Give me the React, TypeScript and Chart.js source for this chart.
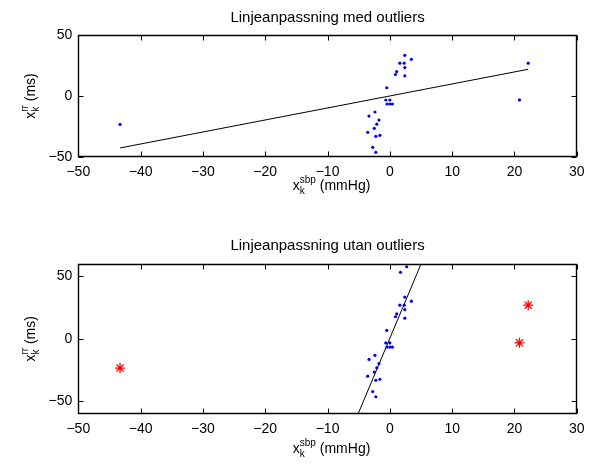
import React, { useEffect, useRef } from "react";
import { Chart, registerables } from "chart.js";

Chart.register(...registerables);

// ---- data ----
const inlierX = [2.7, 1.7, 2.4, 3.45, 1.6, 2.3, 2.4, 1.1, 0.9, 2.4, -0.5, -0.65, 0.0, -0.45, 0.0, 0.4, -2.4, -3.35, -1.75, -2.1, -2.5, -3.55, -2.25, -1.6, -2.75, -2.25];
const inlierY = [57.8, 53.3, 33.5, 30.2, 27.0, 27.0, 23.4, 20.1, 17.7, 16.6, 6.8, -3.3, -3.3, -6.6, -6.6, -6.6, -13.2, -16.5, -19.8, -23.2, -26.6, -29.9, -33.2, -32.4, -42.3, -46.4];
const outlierX = [-43.3, 22.2, 20.8];
const outlierY = [-23.4, 27.0, -3.2];
const fitAllX = [-43.3, 22.2];
const fitAllY = [-42.8, 22.0];
const fitInX = [-6.0, 6.0];
const fitInY = [-70.9, 71.9];
const xTicks = [-50, -40, -30, -20, -10, 0, 10, 20, 30];
const yTicks = [-50, 0, 50];
const titles = ["Linjeanpassning med outliers", "Linjeanpassning utan outliers"];

const FONT = '"Liberation Sans", Arial, Helvetica, sans-serif';
const pts = (xs: number[], ys: number[]) => xs.map((x, i) => ({ x, y: ys[i] }));
const fmt = (v: number) => (v < 0 ? "\u2212" + Math.abs(v) : String(v));

function drawSubSup(ctx: CanvasRenderingContext2D, base: string, sub: string, sup: string, rest: string) {
  ctx.font = `14px ${FONT}`;
  const wb = ctx.measureText(base).width;
  const wr = ctx.measureText(rest).width;
  ctx.font = `10px ${FONT}`;
  const ws = ctx.measureText(sub).width;
  const wp = ctx.measureText(sup).width;
  const total = wb + Math.max(ws, wp) + wr;
  let x = -total / 2;
  ctx.textAlign = "left";
  ctx.textBaseline = "alphabetic";
  ctx.fillStyle = "#000";
  ctx.font = `14px ${FONT}`;
  ctx.fillText(base, x, 0);
  x += wb;
  ctx.font = `10px ${FONT}`;
  ctx.fillText(sub, x, 4);
  ctx.fillText(sup, x, -7);
  x += Math.max(ws, wp);
  ctx.font = `14px ${FONT}`;
  ctx.fillText(rest, x, 0);
}

function makeFramePlugin(title: string, titleBase: number, xlabBase: number, ylabBase: number) {
  return {
    id: "frame",
    afterDraw(chart: any) {
      const ctx: CanvasRenderingContext2D = chart.ctx;
      const a = chart.chartArea;
      const xs = chart.scales.x;
      const ys = chart.scales.y;
      ctx.save();
      ctx.strokeStyle = "#000";
      ctx.lineWidth = 1.4;
      const L = Math.round(a.left) + 0.5, R = Math.round(a.right) - 0.5;
      const T = Math.round(a.top) + 0.5, B = Math.round(a.bottom) - 0.5;
      ctx.beginPath();
      ctx.rect(L, T, R - L, B - T);
      ctx.stroke();
      ctx.lineWidth = 1;
      const tl = 5;
      ctx.beginPath();
      xTicks.forEach((v) => {
        const px = Math.round(xs.getPixelForValue(v)) + 0.5;
        ctx.moveTo(px, B); ctx.lineTo(px, B - tl);
        ctx.moveTo(px, T); ctx.lineTo(px, T + tl);
      });
      yTicks.forEach((v) => {
        const py = Math.round(ys.getPixelForValue(v)) + 0.5;
        ctx.moveTo(L, py); ctx.lineTo(L + tl, py);
        ctx.moveTo(R, py); ctx.lineTo(R - tl, py);
      });
      ctx.stroke();
      const cx = (a.left + a.right) / 2;
      const cy = (a.top + a.bottom) / 2;
      ctx.fillStyle = "#000";
      ctx.font = `15px ${FONT}`;
      ctx.textAlign = "center";
      ctx.textBaseline = "alphabetic";
      ctx.fillText(title, cx, titleBase);
      ctx.save();
      ctx.translate(cx + 4, xlabBase);
      drawSubSup(ctx, "x", "k", "sbp", " (mmHg)");
      ctx.restore();
      ctx.save();
      ctx.translate(ylabBase, cy);
      ctx.rotate(-Math.PI / 2);
      drawSubSup(ctx, "x", "k", "rr", " (ms)");
      ctx.restore();
      ctx.restore();
    },
  };
}

function makeConfig(idx: number): any {
  const top = idx === 0;
  const datasets: any[] = [];
  if (top) {
    datasets.push({
      data: pts(fitAllX, fitAllY), showLine: true, borderColor: "#000", borderWidth: 1,
      pointRadius: 0, fill: false, order: 2,
    });
    datasets.push({
      data: pts(inlierX.concat(outlierX), inlierY.concat(outlierY)),
      pointRadius: 1.6, pointBackgroundColor: "#0000ff", pointBorderWidth: 0, showLine: false, order: 1,
    });
  } else {
    datasets.push({
      data: pts(fitInX, fitInY), showLine: true, borderColor: "#000", borderWidth: 1,
      pointRadius: 0, fill: false, order: 2,
    });
    datasets.push({
      data: pts(inlierX, inlierY),
      pointRadius: 1.6, pointBackgroundColor: "#0000ff", pointBorderWidth: 0, showLine: false, order: 1,
    });
    datasets.push({
      data: pts(outlierX, outlierY), pointStyle: "star",
      pointRadius: 5, pointBorderColor: "#ff0000", pointBackgroundColor: "#ff0000", pointBorderWidth: 1.3, showLine: false, order: 1,
    });
  }
  const areaTop = top ? 35.3 : 32;
  const xScaleH = top ? 75.3 : 50.3;
  const yMin = top ? -50 : -60;
  const yMax = top ? 50 : 60;
  return {
    type: "scatter",
    data: { datasets },
    options: {
      animation: false,
      responsive: false,
      events: [],
      layout: { padding: { left: 0, right: 15.2, top: areaTop, bottom: 0 } },
      plugins: { legend: { display: false }, tooltip: { enabled: false }, title: { display: false } },
      scales: {
        x: {
          type: "linear", min: -50, max: 30,
          afterBuildTicks: (s: any) => { s.ticks = xTicks.map((v) => ({ value: v })); },
          afterFit: (s: any) => { s.height = xScaleH; },
          grid: { display: false, drawTicks: false },
          border: { display: false },
          ticks: { color: "#000", font: { family: FONT, size: 14 }, padding: 7, maxRotation: 0, autoSkip: false, callback: (v: number) => fmt(v) },
        },
        y: {
          type: "linear", min: yMin, max: yMax,
          afterBuildTicks: (s: any) => { s.ticks = yTicks.map((v) => ({ value: v })); },
          afterFit: (s: any) => { s.width = 78.3; },
          grid: { display: false, drawTicks: false },
          border: { display: false },
          ticks: { color: "#000", font: { family: FONT, size: 14 }, padding: 6, autoSkip: false, callback: (v: number) => fmt(v) },
        },
      },
    },
    plugins: [top ? makeFramePlugin(titles[0], 21.7, 190, 35) : makeFramePlugin(titles[1], 18.4, 221, 35)],
  };
}

export default function App() {
  const ref1 = useRef<HTMLCanvasElement>(null);
  const ref2 = useRef<HTMLCanvasElement>(null);
  useEffect(() => {
    const c1 = new Chart(ref1.current as HTMLCanvasElement, makeConfig(0));
    const c2 = new Chart(ref2.current as HTMLCanvasElement, makeConfig(1));
    return () => { c1.destroy(); c2.destroy(); };
  }, []);
  return (
    <div style={{ position: "absolute", left: 0, top: 0, width: 592, height: 464, background: "#fff" }}>
      <canvas ref={ref1} width={592} height={232} style={{ position: "absolute", left: 0, top: 0, width: 592, height: 232 }} />
      <canvas ref={ref2} width={592} height={232} style={{ position: "absolute", left: 0, top: 232, width: 592, height: 232 }} />
    </div>
  );
}
